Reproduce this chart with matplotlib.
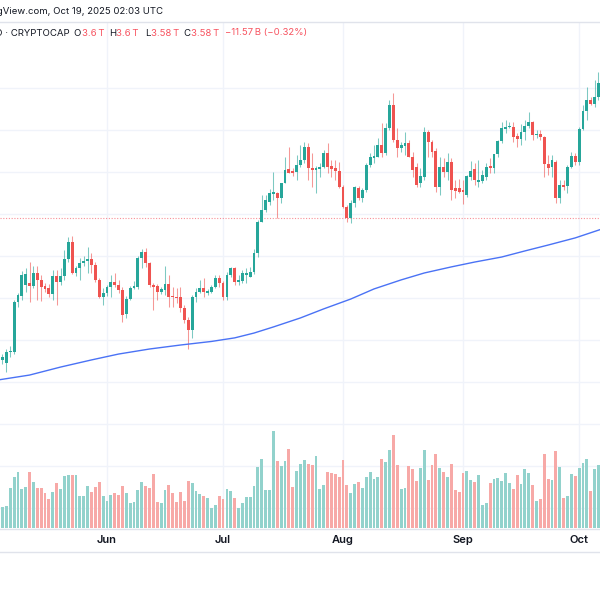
import numpy as np
import pandas as pd
import matplotlib
matplotlib.use("Agg")
import matplotlib.pyplot as plt
import matplotlib.dates as mdates
from matplotlib.lines import Line2D

# ── fonts
plt.rcParams['font.family'] = ['Inter', 'DejaVu Sans']

# ─────────────────────────────
# DATA  (TOTAL crypto market cap, daily, in trillions USD)
# ─────────────────────────────
dates = pd.date_range("2025-05-04", "2025-10-06", freq="D")

opens = [
    2.933, 2.905, 2.890, 2.943, 2.943, 3.181, 3.210, 3.262, 3.271, 3.257,
    3.319, 3.286, 3.257, 3.248, 3.219, 3.305, 3.276, 3.305, 3.386, 3.467,
    3.319, 3.343, 3.367, 3.376, 3.386, 3.357, 3.286, 3.205, 3.224, 3.252,
    3.276, 3.262, 3.238, 3.124, 3.195, 3.248, 3.252, 3.390, 3.419, 3.367,
    3.262, 3.257, 3.229, 3.238, 3.267, 3.210, 3.205, 3.205, 3.152, 3.095,
    3.048, 3.205, 3.229, 3.248, 3.224, 3.229, 3.252, 3.295, 3.271, 3.205,
    3.310, 3.343, 3.276, 3.281, 3.310, 3.300, 3.324, 3.414, 3.562, 3.619,
    3.657, 3.695, 3.700, 3.676, 3.748, 3.814, 3.805, 3.800, 3.833, 3.857,
    3.919, 3.819, 3.810, 3.814, 3.824, 3.890, 3.829, 3.819, 3.805, 3.729,
    3.633, 3.581, 3.652, 3.724, 3.676, 3.714, 3.833, 3.867, 3.871, 3.929,
    3.890, 4.010, 4.119, 3.952, 3.914, 3.924, 3.938, 3.871, 3.824, 3.748,
    3.776, 3.990, 3.943, 3.900, 3.729, 3.824, 3.800, 3.848, 3.724, 3.724,
    3.714, 3.690, 3.776, 3.814, 3.752, 3.757, 3.776, 3.829, 3.819, 3.886,
    3.948, 4.005, 4.014, 4.014, 3.971, 3.957, 3.990, 4.019, 4.038, 3.976,
    3.981, 3.967, 3.838, 3.824, 3.848, 3.676, 3.738, 3.733, 3.824, 3.876,
    3.848, 4.005, 4.090, 4.143, 4.124, 4.157,
]
highs = [
    2.952, 2.933, 2.957, 2.971, 3.190, 3.224, 3.329, 3.343, 3.371, 3.352,
    3.352, 3.310, 3.271, 3.267, 3.333, 3.333, 3.343, 3.429, 3.490, 3.495,
    3.352, 3.390, 3.400, 3.443, 3.414, 3.371, 3.295, 3.248, 3.262, 3.310,
    3.319, 3.286, 3.252, 3.210, 3.257, 3.281, 3.400, 3.433, 3.438, 3.371,
    3.271, 3.267, 3.252, 3.352, 3.310, 3.252, 3.248, 3.252, 3.167, 3.110,
    3.214, 3.248, 3.286, 3.295, 3.243, 3.262, 3.310, 3.310, 3.281, 3.324,
    3.348, 3.348, 3.310, 3.333, 3.343, 3.348, 3.433, 3.571, 3.690, 3.690,
    3.719, 3.800, 3.705, 3.748, 3.871, 3.919, 3.819, 3.881, 3.929, 3.943,
    3.938, 3.890, 3.829, 3.843, 3.905, 3.938, 3.857, 3.857, 3.848, 3.738,
    3.643, 3.667, 3.733, 3.733, 3.724, 3.843, 3.890, 3.929, 3.962, 4.033,
    4.033, 4.143, 4.176, 4.010, 3.943, 3.990, 3.952, 3.895, 3.843, 3.819,
    4.014, 4.000, 3.952, 3.914, 3.871, 3.867, 3.890, 3.867, 3.762, 3.767,
    3.762, 3.786, 3.852, 3.843, 3.857, 3.810, 3.843, 3.867, 3.886, 3.952,
    4.038, 4.048, 4.038, 4.038, 3.986, 4.029, 4.048, 4.086, 4.043, 4.000,
    4.000, 3.971, 3.881, 3.881, 3.857, 3.762, 3.762, 3.833, 3.895, 3.890,
    4.014, 4.119, 4.205, 4.157, 4.238, 4.276,
]
lows = [
    2.900, 2.886, 2.848, 2.919, 2.933, 3.157, 3.190, 3.229, 3.181, 3.248,
    3.190, 3.186, 3.229, 3.205, 3.190, 3.167, 3.262, 3.286, 3.371, 3.314,
    3.305, 3.286, 3.352, 3.319, 3.319, 3.276, 3.200, 3.167, 3.210, 3.205,
    3.252, 3.224, 3.086, 3.105, 3.190, 3.243, 3.243, 3.343, 3.348, 3.252,
    3.143, 3.190, 3.219, 3.214, 3.157, 3.157, 3.176, 3.133, 3.081, 2.957,
    3.010, 3.181, 3.224, 3.205, 3.214, 3.224, 3.248, 3.252, 3.190, 3.190,
    3.300, 3.262, 3.262, 3.271, 3.271, 3.300, 3.314, 3.395, 3.562, 3.610,
    3.643, 3.667, 3.581, 3.652, 3.748, 3.795, 3.781, 3.762, 3.824, 3.843,
    3.762, 3.729, 3.700, 3.776, 3.819, 3.795, 3.776, 3.762, 3.724, 3.629,
    3.562, 3.557, 3.633, 3.667, 3.657, 3.705, 3.824, 3.843, 3.871, 3.871,
    3.881, 4.000, 3.943, 3.871, 3.895, 3.881, 3.871, 3.776, 3.729, 3.729,
    3.762, 3.871, 3.871, 3.705, 3.690, 3.776, 3.762, 3.667, 3.676, 3.700,
    3.648, 3.681, 3.762, 3.738, 3.729, 3.748, 3.762, 3.795, 3.795, 3.871,
    3.938, 3.986, 4.010, 3.943, 3.919, 3.929, 3.952, 4.010, 3.952, 3.962,
    3.952, 3.776, 3.786, 3.776, 3.652, 3.652, 3.714, 3.700, 3.819, 3.833,
    3.833, 4.000, 4.048, 4.119, 4.110, 4.143,
]
closes = [
    2.914, 2.919, 2.943, 2.948, 3.181, 3.214, 3.310, 3.314, 3.257, 3.319,
    3.286, 3.252, 3.243, 3.219, 3.305, 3.276, 3.305, 3.386, 3.467, 3.319,
    3.343, 3.367, 3.376, 3.386, 3.357, 3.286, 3.205, 3.224, 3.252, 3.276,
    3.262, 3.238, 3.119, 3.195, 3.248, 3.257, 3.390, 3.419, 3.367, 3.262,
    3.252, 3.229, 3.243, 3.267, 3.205, 3.205, 3.200, 3.152, 3.095, 3.048,
    3.205, 3.229, 3.248, 3.229, 3.233, 3.252, 3.295, 3.271, 3.205, 3.310,
    3.343, 3.276, 3.286, 3.319, 3.319, 3.324, 3.414, 3.562, 3.619, 3.667,
    3.700, 3.705, 3.676, 3.748, 3.810, 3.795, 3.795, 3.833, 3.857, 3.919,
    3.819, 3.810, 3.819, 3.824, 3.890, 3.824, 3.814, 3.805, 3.729, 3.633,
    3.581, 3.652, 3.729, 3.676, 3.714, 3.833, 3.871, 3.876, 3.929, 3.890,
    4.010, 4.119, 3.952, 3.914, 3.929, 3.938, 3.871, 3.810, 3.738, 3.781,
    3.990, 3.943, 3.895, 3.729, 3.824, 3.800, 3.848, 3.714, 3.710, 3.705,
    3.705, 3.781, 3.805, 3.762, 3.762, 3.786, 3.824, 3.819, 3.886, 3.948,
    4.010, 4.014, 4.019, 3.967, 3.957, 3.990, 4.019, 4.038, 3.976, 3.981,
    3.967, 3.838, 3.819, 3.857, 3.676, 3.738, 3.729, 3.824, 3.876, 3.848,
    4.005, 4.090, 4.143, 4.124, 4.157, 4.224,
]
volumes = [
    15, 21, 22, 40, 51, 56, 39, 41, 56, 46,
    40, 40, 35, 29, 36, 45, 39, 52, 53, 53,
    53, 32, 32, 42, 36, 41, 46, 32, 27, 33,
    35, 33, 42, 35, 25, 26, 38, 46, 42, 40,
    54, 26, 25, 38, 43, 35, 26, 36, 27, 47,
    45, 37, 34, 32, 30, 20, 23, 32, 29, 39,
    37, 30, 20, 25, 31, 31, 42, 61, 69, 38,
    38, 97, 67, 62, 67, 79, 41, 57, 64, 68,
    64, 63, 72, 39, 43, 56, 55, 54, 51, 68,
    43, 35, 44, 46, 40, 51, 56, 49, 51, 69,
    66, 78, 93, 63, 39, 40, 62, 59, 47, 60,
    78, 48, 63, 74, 60, 56, 51, 64, 38, 36,
    55, 57, 48, 46, 53, 23, 25, 45, 49, 50,
    47, 55, 45, 39, 53, 44, 59, 55, 43, 27,
    29, 74, 49, 48, 77, 61, 30, 32, 54, 52,
    60, 65, 69, 37, 59, 63,
]

# moving average line, every ~6-7 days
ma_dates = pd.to_datetime([
    "2025-05-04", "2025-05-12", "2025-05-20", "2025-05-28", "2025-06-04",
    "2025-06-12", "2025-06-20", "2025-06-28", "2025-07-04", "2025-07-09",
    "2025-07-14", "2025-07-21", "2025-07-27", "2025-08-03", "2025-08-09",
    "2025-08-16", "2025-08-22", "2025-08-29", "2025-09-04", "2025-09-11",
    "2025-09-17", "2025-09-23", "2025-09-30", "2025-10-07",
])
ma_values = [
    2.810, 2.833, 2.871, 2.905, 2.933, 2.957, 2.976, 2.993, 3.010, 3.033,
    3.062, 3.105, 3.148, 3.195, 3.243, 3.286, 3.319, 3.348, 3.371, 3.395,
    3.424, 3.452, 3.486, 3.529,
]

last_close = 3.58
month_ticks = pd.to_datetime(["2025-06-01", "2025-07-01", "2025-08-01",
                              "2025-09-01", "2025-10-01"])
month_labels = ["Jun", "Jul", "Aug", "Sep", "Oct"]
price_grid = [2.2, 2.4, 2.6, 2.8, 3.0, 3.2, 3.4, 3.6, 3.8, 4.0, 4.2]

UP = "#26a69a"
DOWN = "#ef5350"
UP_VOL = "#92d2cc"
DOWN_VOL = "#f7a9a7"
GRID = "#f0f3fa"
BORDER = "#e0e3eb"
TEXT = "#131722"
RED_TXT = "#f7525f"

# ─────────────────────────────
# FIGURE
# ─────────────────────────────
x = mdates.date2num(dates)
o = np.array(opens)
h = np.array(highs)
l = np.array(lows)
c = np.array(closes)
up = c >= o
col = np.where(up, UP, DOWN)
vcol = np.where(up, UP_VOL, DOWN_VOL)

fig = plt.figure(figsize=(6, 6), dpi=100)
pos = [0, 71 / 600, 1, 507 / 600]

ax = fig.add_axes(pos)
ax_vol = fig.add_axes(pos, sharex=ax)
ax_vol.patch.set_alpha(0)
ax_vol.axis("off")

# volume
ax_vol.bar(x, volumes, width=0.74, color=vcol, linewidth=0)
ax_vol.set_ylim(-1, 506)

# candles
ax.vlines(x, l, h, colors=col, linewidth=0.75, alpha=0.6, zorder=2)
body = np.maximum(np.abs(c - o), 0.004)
ax.bar(x, body, bottom=np.minimum(o, c), width=0.74, color=col,
       linewidth=0, zorder=3)

# MA
ax.plot(mdates.date2num(ma_dates), ma_values, color="#4a72f5",
        linewidth=1.0, zorder=4, solid_joinstyle="round")

# last price line
ax.axhline(last_close, color="#f23645", linewidth=0.8, alpha=0.55,
           linestyle=(0, (1, 1.5)), zorder=1)

ax.set_xlim(x[0] + 0.36, x[0] + 155.4)
ax.set_ylim(2.1, 4.514)

ax.set_yticks(price_grid)
ax.set_xticks(mdates.date2num(month_ticks))
ax.set_xticklabels(month_labels)
ax.grid(True, color=GRID, linewidth=1, zorder=0)
ax.set_axisbelow(True)
ax.tick_params(axis="y", left=False, labelleft=False)
ax.tick_params(axis="x", length=0, pad=4.5, labelsize=8,
               labelcolor=TEXT)
for lab in ax.get_xticklabels():
    lab.set_fontweight("semibold")

for side in ["left", "right"]:
    ax.spines[side].set_visible(False)
for side in ["top", "bottom"]:
    ax.spines[side].set_color(BORDER)
    ax.spines[side].set_linewidth(1)

fig.add_artist(Line2D([0, 1], [1 - 552 / 600, 1 - 552 / 600],
                      color=BORDER, linewidth=1,
                      transform=fig.transFigure))

# header texts (cropped at the left edge, as in the snapshot)
fs = 6.9
fig.text(163 / 600, 1 - 12 / 600,
         "Published on TradingView.com, Oct 19, 2025 02:03 UTC",
         ha="right", va="center", fontsize=fs, color=TEXT)

y2 = 1 - 33 / 600
fig.text(70 / 600, y2, "Crypto Total Market Cap, $ · 1D · CRYPTOCAP",
         ha="right", va="center", fontsize=fs, color=TEXT)
pieces = [
    (73, "O", TEXT), (82, "3.6\u2009T", RED_TXT),
    (109, "H", TEXT), (116, "3.6\u2009T", RED_TXT),
    (145, "L", TEXT), (151, "3.58\u2009T", RED_TXT),
    (183, "C", TEXT), (191, "3.58\u2009T", RED_TXT),
    (225, "\u221211.57\u2009B (\u22120.32%)", RED_TXT),
]
for px, s, cl in pieces:
    fig.text(px / 600, y2, s, ha="left", va="center", fontsize=fs, color=cl)

fig.savefig("out.png", dpi=100, facecolor="white")
